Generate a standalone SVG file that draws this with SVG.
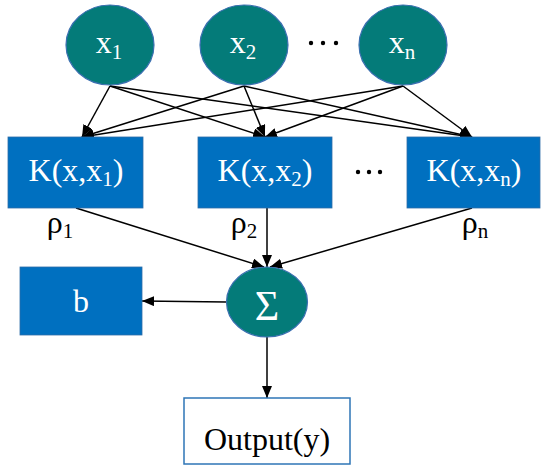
<svg xmlns="http://www.w3.org/2000/svg" width="550" height="474" viewBox="0 0 550 474">
<style>
.circ{fill:#047B79;stroke:#3A6FB0;stroke-width:1.2}
.box{fill:#0070C0;stroke:#2E6DA8;stroke-width:0.8}
.out{fill:#FFFFFF;stroke:#2E75B6;stroke-width:1.5}
.wt{font-family:"Liberation Serif","Times New Roman",serif;font-size:32px;fill:#FFFFFF;text-anchor:middle}
.bt{font-family:"Liberation Serif","Times New Roman",serif;font-size:32px;fill:#000000;text-anchor:middle}
.sub{font-size:21px}
.ln{stroke:#000;stroke-width:1.5;fill:none;marker-end:url(#ah)}
.dot{fill:#000}
</style>
<defs>
<marker id="ah" markerUnits="userSpaceOnUse" markerWidth="12" markerHeight="10" refX="12" refY="5" orient="auto">
<path d="M0,0 L12,5 L0,10 z" fill="#000"/>
</marker>
</defs>
<g id="connectors">
<line class="ln" x1="110" y1="86" x2="82" y2="137"/>
<line class="ln" x1="110" y1="86" x2="265" y2="137"/>
<line class="ln" x1="110" y1="86" x2="472" y2="137"/>
<line class="ln" x1="244" y1="86" x2="82" y2="137"/>
<line class="ln" x1="244" y1="86" x2="265" y2="137"/>
<line class="ln" x1="244" y1="86" x2="472" y2="137"/>
<line class="ln" x1="403" y1="86" x2="82" y2="137"/>
<line class="ln" x1="403" y1="86" x2="265" y2="137"/>
<line class="ln" x1="403" y1="86" x2="472" y2="137"/>
<line class="ln" x1="76" y1="208" x2="264" y2="267"/>
<line class="ln" x1="267" y1="208" x2="267" y2="267"/>
<line class="ln" x1="472" y1="208" x2="270" y2="267"/>
<line class="ln" x1="226" y1="302" x2="142" y2="301"/>
<line class="ln" x1="267" y1="337" x2="267" y2="398"/>
</g>
<g id="x1"><ellipse class="circ" cx="110" cy="45" rx="44" ry="40"/><text class="wt" x="109" y="53">x<tspan class="sub" dy="6">1</tspan></text></g>
<g id="x2"><ellipse class="circ" cx="244" cy="45" rx="44" ry="40"/><text class="wt" x="243" y="53">x<tspan class="sub" dy="6">2</tspan></text></g>
<g id="xn"><ellipse class="circ" cx="403" cy="45" rx="44" ry="40"/><text class="wt" x="402" y="53">x<tspan class="sub" dy="6">n</tspan></text></g>
<g id="dots-top"><circle class="dot" cx="311" cy="43" r="2.2"/><circle class="dot" cx="323" cy="43" r="2.2"/><circle class="dot" cx="336" cy="43" r="2.2"/></g>
<g id="k1"><rect class="box" x="8" y="137" width="135" height="71"/><text class="wt" x="76" y="181">K(x,x<tspan class="sub" dy="5">1</tspan><tspan dy="-5">)</tspan></text></g>
<g id="k2"><rect class="box" x="198" y="137" width="134" height="71"/><text class="wt" x="265" y="181">K(x,x<tspan class="sub" dy="5">2</tspan><tspan dy="-5">)</tspan></text></g>
<g id="kn"><rect class="box" x="407" y="137" width="133" height="71"/><text class="wt" x="474" y="181">K(x,x<tspan class="sub" dy="5">n</tspan><tspan dy="-5">)</tspan></text></g>
<g id="dots-mid"><circle class="dot" cx="358" cy="172" r="2.2"/><circle class="dot" cx="369" cy="172" r="2.2"/><circle class="dot" cx="380" cy="172" r="2.2"/></g>
<g id="rho1"><text class="bt" x="60" y="233">ρ<tspan class="sub" dy="5">1</tspan></text></g>
<g id="rho2"><text class="bt" x="244" y="233">ρ<tspan class="sub" dy="5">2</tspan></text></g>
<g id="rhon"><text class="bt" x="475" y="233">ρ<tspan class="sub" dy="5">n</tspan></text></g>
<g id="b"><rect class="box" x="20" y="267" width="122" height="68"/><text class="wt" x="81" y="312">b</text></g>
<g id="sum"><ellipse class="circ" cx="267" cy="302" rx="40.5" ry="35"/><text class="wt" x="267" y="320" style="font-size:42px">Σ</text></g>
<g id="output"><rect class="out" x="184" y="398" width="166" height="66"/><text class="bt" x="267" y="450">Output(y)</text></g>
</svg>
